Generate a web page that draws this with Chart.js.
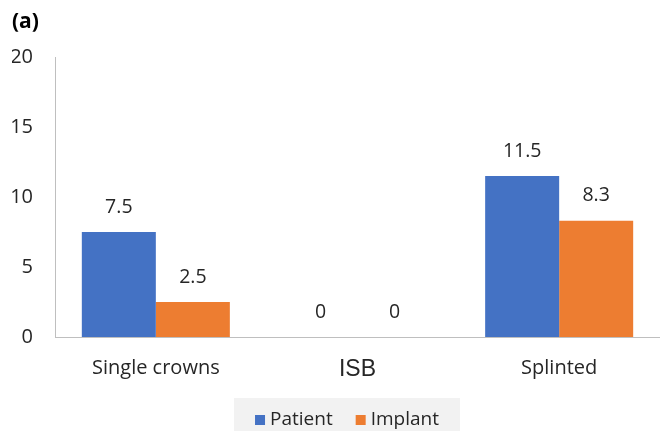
<!DOCTYPE html>
<html>
<head>
<meta charset="utf-8">
<script src="https://cdn.jsdelivr.net/npm/chart.js@4/dist/chart.umd.min.js"></script>
<style>
html,body{margin:0;padding:0;background:#fff;overflow:hidden;}
#wrap{width:660px;height:431px;position:relative;}
</style>
</head>
<body>
<div id="wrap"><canvas id="c" width="660" height="431"></canvas></div>
<script>
const categories = ["Single crowns", "ISB", "Splinted"];
const patientValues = [7.5, 0, 11.5];
const implantValues = [2.5, 0, 8.3];
const seriesNames = ["Patient", "Implant"];
const yTicks = [0, 5, 10, 15, 20];

const TEXT = "#262626";
const FONT = "'Open Sans', sans-serif";

const valueLabels = {
  id: "valueLabels",
  afterDatasetsDraw(chart) {
    const ctx = chart.ctx;
    ctx.save();
    ctx.fillStyle = TEXT;
    ctx.font = "19.5px " + FONT;
    ctx.textAlign = "center";
    ctx.textBaseline = "middle";
    chart.data.datasets.forEach((ds, i) => {
      const meta = chart.getDatasetMeta(i);
      meta.data.forEach((el, j) => {
        ctx.fillText(String(ds.data[j]), el.x, el.y - 25);
      });
    });
    ctx.restore();
  }
};

const customLegend = {
  id: "customLegend",
  afterDraw(chart) {
    const ctx = chart.ctx;
    ctx.save();
    ctx.font = "19px " + FONT;
    const box = 10, gapText = 5, gapItem = 23, padX = 21;
    const items = chart.data.datasets.map(ds => ({
      label: ds.label, color: ds.backgroundColor, w: ctx.measureText(ds.label).width
    }));
    let total = 0;
    items.forEach((it, k) => { total += box + gapText + it.w + (k ? gapItem : 0); });
    const cx = chart.width / 2 + 17;
    const cy = chart.height - 11;
    const bgLeft = cx - total / 2 - padX;
    ctx.fillStyle = "#f2f2f2";
    ctx.fillRect(bgLeft, chart.height - 33, total + padX * 2, 33);
    let x = cx - total / 2;
    items.forEach((it, k) => {
      if (k) x += gapItem;
      ctx.fillStyle = it.color;
      ctx.fillRect(x, cy - box / 2, box, box);
      x += box + gapText;
      ctx.fillStyle = TEXT;
      ctx.textAlign = "left";
      ctx.textBaseline = "middle";
      ctx.fillText(it.label, x, cy);
      x += it.w;
    });
    ctx.restore();
  }
};

new Chart(document.getElementById("c"), {
  type: "bar",
  data: {
    labels: categories,
    datasets: [
      { label: seriesNames[0], data: patientValues, backgroundColor: "#4472C4",
        categoryPercentage: 0.734, barPercentage: 1 },
      { label: seriesNames[1], data: implantValues, backgroundColor: "#ED7D31",
        categoryPercentage: 0.734, barPercentage: 1 }
    ]
  },
  options: {
    responsive: false,
    animation: false,
    devicePixelRatio: 1,
    layout: { padding: { left: 12, right: -4, top: 0, bottom: 33 } },
    plugins: {
      legend: { display: false },
      tooltip: { enabled: false },
      title: {
        display: true, text: "(a)", align: "start", color: "#000",
        font: { family: FONT, size: 21, weight: "bold" },
        padding: { top: 9, bottom: 22.8 }
      }
    },
    scales: {
      x: {
        grid: { display: false, drawTicks: false },
        border: { display: true, color: "#bfbfbf", width: 1 },
        ticks: {
          color: TEXT, padding: 19,
          font: (c) => c.index === 1
            ? { family: "'Liberation Sans', Arial, sans-serif", size: 23 }
            : { family: FONT, size: 20 }
        },
        afterFit: (s) => { s.height = 61; }
      },
      y: {
        min: 0, max: 20,
        afterBuildTicks: (s) => { s.ticks = yTicks.map(v => ({ value: v })); },
        grid: { display: false, drawTicks: false },
        border: { display: true, color: "#bfbfbf", width: 1 },
        ticks: { color: TEXT, padding: 22, font: { family: FONT, size: 20 } },
        afterFit: (s) => { s.width = 43; }
      }
    }
  },
  plugins: [valueLabels, customLegend]
});
</script>
</body>
</html>
